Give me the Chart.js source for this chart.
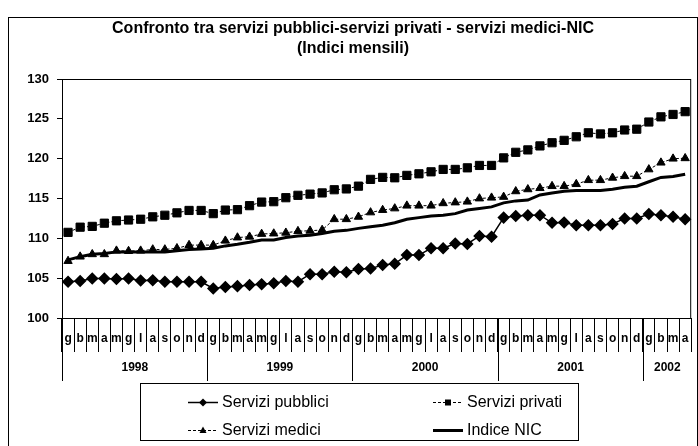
<!DOCTYPE html>
<html>
<head>
<meta charset="utf-8">
<script src="https://cdn.jsdelivr.net/npm/chart.js@4.4.1/dist/chart.umd.min.js"></script>
<style>
  html, body { margin: 0; padding: 0; background: #fff; }
</style>
</head>
<body>
<canvas id="myChart" width="698" height="446"></canvas>
<script>
const FONT = "'Liberation Sans', Arial, sans-serif";

const titleLines = [
  "Confronto tra servizi pubblici-servizi privati - servizi medici-NIC",
  "(Indici mensili)"
];
const months = ["g", "b", "m", "a", "m", "g", "l", "a", "s", "o", "n", "d"];
const years = ["1998", "1999", "2000", "2001", "2002"];
const yTicks = [100, 105, 110, 115, 120, 125, 130];

// monthly indices, gen 1998 - apr 2002
const pubblici = [
  104.55, 104.65, 104.95, 104.95, 104.9, 104.95, 104.7, 104.75, 104.55, 104.55, 104.55, 104.55,
  103.7, 103.9, 104.0, 104.15, 104.25, 104.35, 104.65, 104.55, 105.5, 105.5, 105.8, 105.75,
  106.15, 106.2, 106.65, 106.8, 107.9, 107.9, 108.75, 108.75, 109.35, 109.3, 110.3, 110.2,
  112.6, 112.8, 112.9, 112.9, 111.95, 112.0, 111.65, 111.65, 111.65, 111.8, 112.5, 112.5,
  113.05, 112.9, 112.7, 112.4
];
const privati = [
  110.75, 111.4, 111.5, 111.9, 112.2, 112.3, 112.4, 112.7, 112.9, 113.2, 113.5, 113.5,
  113.1, 113.55, 113.6, 114.1, 114.55, 114.6, 115.1, 115.4, 115.55, 115.7, 116.1, 116.2,
  116.55, 117.4, 117.65, 117.6, 117.9, 118.1, 118.35, 118.65, 118.65, 118.85, 119.15, 119.15,
  120.1, 120.8, 121.1, 121.6, 122.0, 122.3, 122.75, 123.25, 123.1, 123.25, 123.6, 123.7,
  124.6, 125.25, 125.55, 125.9
];
const medici = [
  107.15, 107.7, 108.0, 108.0, 108.45, 108.4, 108.45, 108.6, 108.6, 108.75, 109.15, 109.15,
  109.15, 109.7, 110.1, 110.2, 110.55, 110.6, 110.7, 110.9, 110.95, 111.05, 112.4, 112.4,
  112.7, 113.25, 113.55, 113.75, 114.1, 114.1, 114.1, 114.4, 114.5, 114.6, 115.0, 115.1,
  115.2, 115.9, 116.15, 116.3, 116.55, 116.55, 116.8, 117.3, 117.3, 117.6, 117.8, 117.8,
  118.65, 119.5, 120.0, 120.05
];
const nic = [
  107.3, 107.7, 108.0, 108.1, 108.3, 108.3, 108.3, 108.3, 108.3, 108.45, 108.6, 108.65,
  108.75, 109.05, 109.25, 109.5, 109.8, 109.8, 110.1, 110.3, 110.4, 110.6, 110.9, 111.0,
  111.25, 111.45, 111.65, 111.95, 112.4, 112.6, 112.8, 112.9, 113.1, 113.55, 113.75, 113.95,
  114.45, 114.7, 114.8, 115.45, 115.7, 115.9, 116.0, 116.0, 116.0, 116.15, 116.4, 116.55,
  117.1, 117.65, 117.75, 118.05
];

const labels = pubblici.map((v, i) => months[i % 12]);

// frame, plot box, year row and legend
const extras = {
  id: "extras",
  afterDraw(chart) {
    const ctx = chart.ctx;
    const area = chart.chartArea;
    const x = chart.scales.x;
    ctx.save();
    ctx.strokeStyle = "#000";
    ctx.fillStyle = "#000";
    ctx.lineWidth = 1;

    ctx.strokeRect(8.5, 17.5, 689, 440);
    ctx.strokeRect(area.left + 0.5, area.top + 0.5, area.right - area.left - 1, area.bottom - area.top);

    // year separators and labels
    const half = (x.getPixelForValue(1) - x.getPixelForValue(0)) / 2;
    ctx.font = "bold 12px " + FONT;
    ctx.textAlign = "center";
    ctx.textBaseline = "middle";
    years.forEach((yr, k) => {
      const first = k * 12;
      const last = Math.min(first + 11, labels.length - 1);
      const left = Math.round(x.getPixelForValue(first) - half) + 0.5;
      const right = x.getPixelForValue(last) + half;
      ctx.beginPath();
      ctx.moveTo(left, area.bottom);
      ctx.lineTo(left, area.bottom + 63);
      ctx.stroke();
      ctx.fillText(yr, (left + right) / 2, area.bottom + 50);
    });

    // legend
    ctx.strokeRect(140.5, 383.5, 438, 57);
    const spots = [[188, 402], [433, 402], [188, 430], [433, 430]];
    ctx.font = "16px " + FONT;
    ctx.textAlign = "left";
    chart.data.datasets.forEach((ds, i) => {
      const [lx, ly] = spots[i];
      ctx.save();
      ctx.lineWidth = ds.borderWidth;
      ctx.setLineDash(ds.borderDash || []);
      ctx.beginPath();
      ctx.moveTo(lx, ly + 0.5);
      ctx.lineTo(lx + 30, ly + 0.5);
      ctx.stroke();
      ctx.restore();
      const cx = lx + 15, cy = ly + 0.5;
      ctx.beginPath();
      if (ds.pointStyle === "rectRot") {
        ctx.moveTo(cx, cy - 4); ctx.lineTo(cx + 4, cy); ctx.lineTo(cx, cy + 4); ctx.lineTo(cx - 4, cy);
      } else if (ds.pointStyle === "rect") {
        ctx.rect(cx - 3, cy - 3, 6, 6);
      } else if (ds.pointStyle === "triangle") {
        ctx.moveTo(cx, cy - 4); ctx.lineTo(cx + 3.5, cy + 2.5); ctx.lineTo(cx - 3.5, cy + 2.5);
      }
      ctx.closePath();
      if (ds.pointRadius > 0) ctx.fill();
      ctx.fillText(ds.label, lx + 34, ly + 1);
    });
    ctx.restore();
  }
};

const ctx = document.getElementById("myChart").getContext("2d");
const myChart = new Chart(ctx, {
  type: "line",
  data: {
    labels: labels,
    datasets: [
      {
        label: "Servizi pubblici",
        data: pubblici,
        borderColor: "#000",
        backgroundColor: "#000",
        borderWidth: 1.5,
        pointStyle: "rectRot",
        pointRadius: 5.2,
      },
      {
        label: "Servizi privati",
        data: privati,
        borderColor: "#000",
        backgroundColor: "#000",
        borderWidth: 1,
        borderDash: [3, 2],
        pointStyle: "rect",
        pointRadius: 5.8,
      },
      {
        label: "Servizi medici",
        data: medici,
        borderColor: "#000",
        backgroundColor: "#000",
        borderWidth: 1,
        borderDash: [3, 2],
        pointStyle: "triangle",
        pointRadius: 4.8,
      },
      {
        label: "Indice NIC",
        data: nic,
        borderColor: "#000",
        backgroundColor: "#000",
        borderWidth: 3,
        pointRadius: 0,
      },
    ],
  },
  options: {
    responsive: false,
    animation: false,
    events: [],
    layout: { padding: { left: 8, right: 0, top: 17, bottom: 0 } },
    elements: { line: { tension: 0, fill: false } },
    plugins: {
      legend: { display: false },
      tooltip: { enabled: false },
      title: {
        display: true,
        text: titleLines,
        color: "#000",
        font: { family: FONT, size: 16, weight: "bold", lineHeight: 1.25 },
        padding: { top: 2, bottom: 20 },
      },
    },
    scales: {
      x: {
        offset: true,
        grid: {
          offset: true,
          drawOnChartArea: false,
          drawTicks: true,
          tickLength: 34,
          color: "#000",
        },
        border: { display: true, color: "#000", width: 1 },
        ticks: {
          autoSkip: false,
          maxRotation: 0,
          minRotation: 0,
          padding: -21,
          color: "#000",
          font: { family: FONT, size: 12, weight: "bold" },
        },
        afterFit(scale) { scale.height = 128; },
      },
      y: {
        min: 100,
        max: 130,
        afterBuildTicks(scale) { scale.ticks = yTicks.map(v => ({ value: v })); },
        grid: { drawOnChartArea: false, drawTicks: true, tickLength: 5, color: "#000" },
        border: { display: true, color: "#000", width: 1 },
        ticks: {
          padding: 8,
          color: "#000",
          font: { family: FONT, size: 13, weight: "bold" },
        },
        afterFit(scale) { scale.width = 54; },
      },
    },
  },
  plugins: [extras],
});
</script>
</body>
</html>
